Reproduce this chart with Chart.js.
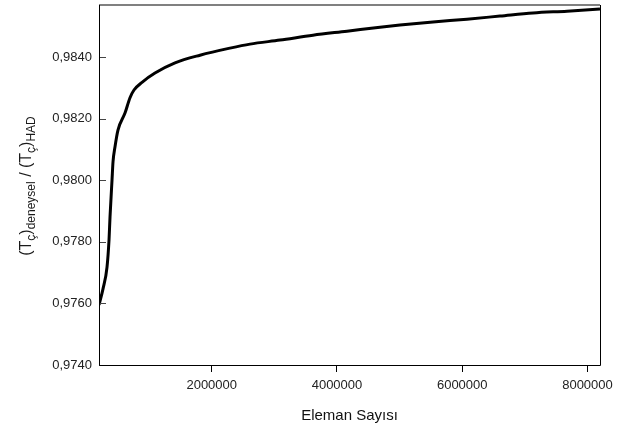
<!DOCTYPE html>
<html>
<head>
<meta charset="utf-8">
<script src="https://cdn.jsdelivr.net/npm/chart.js@4/dist/chart.umd.min.js"></script>
<style>
  html, body { margin: 0; padding: 0; background: #fff; }
  #wrap { width: 618px; height: 425px; }
</style>
</head>
<body>
<div id="wrap"><canvas id="c" width="618" height="425"></canvas></div>
<script>
// ---- data ----
const elemanSayisi = [200000, 264000, 328000, 360000, 376000, 408000, 424000, 455000, 503000, 615000,
  695000, 759000, 887000, 1094000, 1414000, 1813000, 2292000, 2611000, 3090000, 3617000, 4160000,
  4687000, 5006000, 5533000, 6076000, 6603000, 7130000, 7673000, 8200000];
const oran = [0.97595, 0.97647, 0.97718, 0.97806, 0.97881, 0.98001, 0.98060, 0.98108, 0.98163, 0.98218,
  0.98268, 0.98293, 0.98318, 0.98348, 0.98381, 0.98406, 0.98429, 0.98442, 0.98455, 0.98471, 0.98484,
  0.98497, 0.98504, 0.98514, 0.98523, 0.98533, 0.98543, 0.98549, 0.98556];
const xTicks = [2000000, 4000000, 6000000, 8000000];
const yTicks = [0.974, 0.976, 0.978, 0.980, 0.982, 0.984];
const xTitle = 'Eleman Sayısı';

const points = elemanSayisi.map((x, i) => ({ x: x, y: oran[i] }));
const FONT = '"Liberation Sans", Arial, sans-serif';

const framePlugin = {
  id: 'frame',
  afterDatasetsDraw(chart) {
    const { ctx, chartArea: a } = chart;
    const ys = chart.scales.y;
    ctx.save();
    // y tick marks inside the plot
    ctx.strokeStyle = '#444';
    ctx.lineWidth = 1;
    yTicks.forEach(v => {
      const py = Math.round(ys.getPixelForValue(v)) + 0.5;
      ctx.beginPath();
      ctx.moveTo(a.left, py);
      ctx.lineTo(a.left + 7, py);
      ctx.stroke();
    });
    // top border (grey)
    ctx.strokeStyle = '#808080';
    ctx.lineWidth = 2;
    ctx.beginPath();
    ctx.moveTo(a.left, a.top);
    ctx.lineTo(a.right, a.top);
    ctx.stroke();
    // left, bottom, right borders
    ctx.strokeStyle = '#000';
    ctx.lineWidth = 1;
    ctx.beginPath();
    ctx.moveTo(Math.round(a.left) + 0.5, a.top);
    ctx.lineTo(Math.round(a.left) + 0.5, Math.round(a.bottom) + 0.5);
    ctx.lineTo(Math.round(a.right) + 0.5, Math.round(a.bottom) + 0.5);
    ctx.lineTo(Math.round(a.right) + 0.5, a.top);
    ctx.stroke();
    ctx.restore();
  }
};

const yTitlePlugin = {
  id: 'ytitle',
  afterDraw(chart) {
    const { ctx } = chart;
    const parts = [
      { t: '(T', sub: false }, { t: 'ç', sub: true }, { t: ')', sub: false },
      { t: 'deneysel', sub: true }, { t: ' / ', sub: false },
      { t: '(T', sub: false }, { t: 'ç', sub: true }, { t: ')', sub: false },
      { t: 'HAD', sub: true }
    ];
    const mainF = '16px ' + FONT, subF = '12px ' + FONT;
    ctx.save();
    let total = 0;
    parts.forEach(p => { ctx.font = p.sub ? subF : mainF; p.w = ctx.measureText(p.t).width; total += p.w; });
    const cy = 186;
    const baseX = 31;
    ctx.translate(baseX, cy);
    ctx.rotate(-Math.PI / 2);
    ctx.fillStyle = '#1a1a1a';
    ctx.textBaseline = 'alphabetic';
    ctx.textAlign = 'left';
    let x = -total / 2;
    parts.forEach(p => {
      ctx.font = p.sub ? subF : mainF;
      ctx.fillText(p.t, x, p.sub ? 4 : 0);
      x += p.w;
    });
    ctx.restore();
  }
};

new Chart(document.getElementById('c'), {
  type: 'line',
  data: {
    datasets: [{
      data: points,
      borderColor: '#000',
      borderWidth: 3,
      pointRadius: 0,
      fill: false,
      cubicInterpolationMode: 'monotone'
    }]
  },
  options: {
    responsive: false,
    animation: false,
    layout: { padding: { top: 5, right: 18, left: 0, bottom: 0 } },
    plugins: { legend: { display: false }, tooltip: { enabled: false } },
    scales: {
      x: {
        type: 'linear',
        min: 200000,
        max: 8200000,
        afterBuildTicks: s => { s.ticks = xTicks.map(v => ({ value: v })); },
        afterFit: s => { s.height = 60; s.paddingLeft = 0; s.paddingRight = 0; },
        border: { display: false },
        grid: { drawOnChartArea: false, drawTicks: true, tickLength: 7, color: '#000' },
        ticks: {
          padding: 6,
          maxRotation: 0,
          color: '#222',
          font: { family: FONT, size: 13 },
          callback: v => String(v)
        },
        title: {
          display: true,
          text: xTitle,
          color: '#111',
          font: { family: FONT, size: 15 },
          padding: { top: 4, bottom: 0 }
        }
      },
      y: {
        type: 'linear',
        min: 0.974,
        max: 0.98569,
        afterBuildTicks: s => { s.ticks = yTicks.map(v => ({ value: v })); },
        afterFit: s => { s.width = 99; s.paddingTop = 0; s.paddingBottom = 0; },
        border: { display: false },
        grid: { display: false, drawTicks: false },
        ticks: {
          padding: 7,
          color: '#222',
          font: { family: FONT, size: 13 },
          callback: v => Number(v).toFixed(4).replace('.', ',')
        }
      }
    }
  },
  plugins: [framePlugin, yTitlePlugin]
});
</script>
</body>
</html>
